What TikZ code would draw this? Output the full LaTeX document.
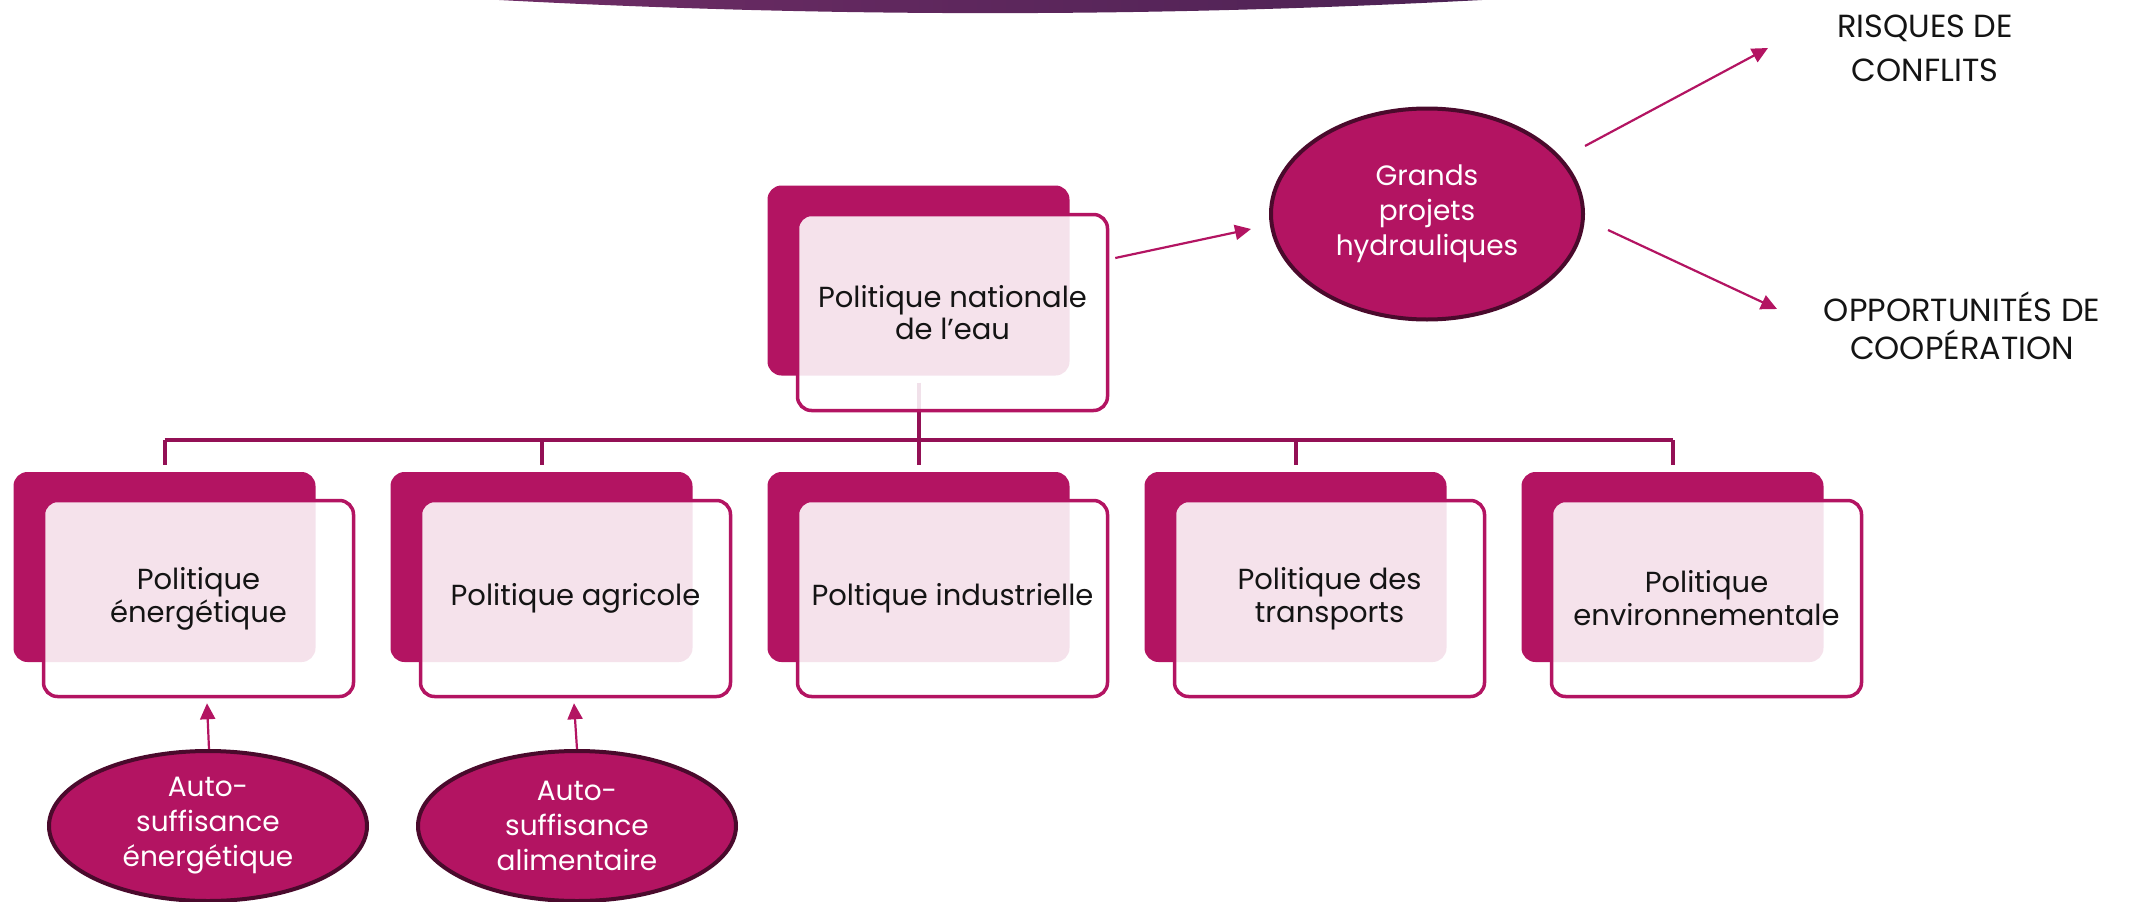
\documentclass[tikz,border=0pt]{standalone}
\usepackage{fontspec}
\setmainfont{Poppins}
\usetikzlibrary{arrows.meta,shapes.geometric,calc}
\definecolor{mag}{HTML}{B31462}
\definecolor{treec}{HTML}{931055}
\definecolor{edgec}{HTML}{4A0A2C}
\definecolor{txt}{HTML}{141414}
\definecolor{arcL}{HTML}{6E2C65}
\definecolor{arcM}{HTML}{6A2E66}
\definecolor{arcR}{HTML}{4C2254}
\begin{document}
\begin{tikzpicture}[x=1pt,y=-1pt,
  back/.style={rectangle,rounded corners=14pt,fill=mag,inner sep=0pt,minimum width=302pt,minimum height=190pt},
  front/.style={rectangle,rounded corners=14pt,draw=mag,line width=3.5pt,fill=white,fill opacity=0.88,text opacity=1,
    inner sep=0pt,minimum width=310pt,minimum height=196pt,align=center,text=txt,
    font=\fontsize{29}{33}\selectfont},
  bubble/.style={ellipse,fill=mag,draw=edgec,line width=4pt,inner sep=0pt,align=center,text=white,
    font=\fontsize{28}{35}\selectfont},
  label/.style={align=center,text=txt,inner sep=0pt},
  tree/.style={draw=treec,line width=4pt},
  arr/.style={draw=mag,line width=2.2pt,-{Triangle[length=16pt,width=15pt]}}]
\useasboundingbox (0,0) rectangle (2131,902);
% top arc
\shade[left color=arcL,middle color=arcM,right color=arcR]
  (499,0) .. controls (830,17.5) and (1150,17.5) .. (1482,0) -- cycle;
% back rectangles
\node[back] (d0) at (918.5,280.5) {};
\node[back] (d1) at (164.5,567) {};
\node[back] (d2) at (541.5,567) {};
\node[back] (d3) at (918.5,567) {};
\node[back] (d4) at (1295.5,567) {};
\node[back] (d5) at (1672.5,567) {};
% tree connectors
\coordinate (hub) at (918.5,440);
\draw[tree] ([yshift=-7pt]d0.south) -- ([yshift=7pt]d3.north);
\draw[tree] (hub -| d1.north) -- (hub -| d5.north);
\foreach \i in {1,2,4,5}{\draw[tree] (hub -| d\i.north) -- ([yshift=7pt]d\i.north);}
% front boxes
\node[front] (w0) at (952.5,312.5) {\raisebox{-3pt}{\shortstack{Politique nationale\\de l’eau}}};
\node[front] (w1) at (198.5,598.5) {Politique\\énergétique};
\node[front] (w2) at (575.5,598.5) {Politique agricole};
\node[front] (w3) at (952.5,598.5) {Poltique industrielle};
\node[front] (w4) at (1329.5,598.5) {Politique des\\transports};
\node[front] (w5) at (1706.5,598.5) {Politique\\environnementale};
% ellipses
\node[bubble,minimum width=312pt,minimum height=211pt] (g) at (1427,214) {Grands\\projets\\hydrauliques};
\node[bubble,minimum width=318pt,minimum height=150pt] (e1) at (208,826) {Auto-\\suffisance\\énergétique};
\node[bubble,minimum width=318pt,minimum height=150pt] (e2) at (577,826) {Auto-\\suffisance\\alimentaire};
% outcome labels
\node[label,font=\fontsize{32}{44}\selectfont] (risk) at (1925,48) {RISQUES DE\\CONFLITS};
\node[label,font=\fontsize{32}{38}\selectfont] (opp) at (1962,326) {OPPORTUNITÉS DE\\COOPÉRATION};
% arrows
\draw[arr] ([xshift=6pt,yshift=54.5pt]w0.east) -- ([xshift=-18pt,yshift=-15pt]g.west);
\draw[arr] ([yshift=68pt]g.east) -- ([xshift=-157pt]risk.center);
\draw[arr] ([xshift=23pt,yshift=-16pt]g.east) -- ([xshift=-185pt,yshift=17pt]opp.center);
\draw[arr] ([xshift=1pt]e1.north) -- ([xshift=-1pt,yshift=-5pt]e1.north |- w1.south);
\draw[arr] ([xshift=0pt]e2.north) -- ([xshift=-3pt,yshift=-5pt]e2.north |- w2.south);
\end{tikzpicture}
\end{document}
